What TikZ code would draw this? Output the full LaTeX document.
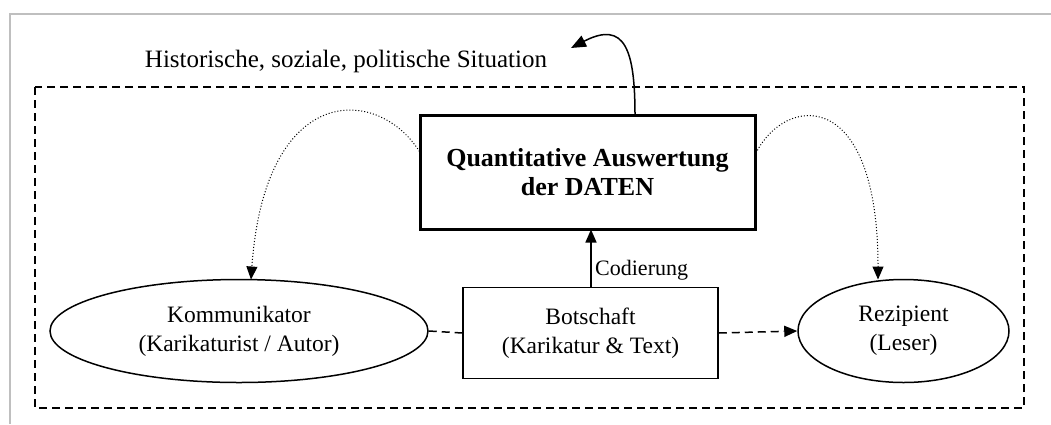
\documentclass[tikz,border=0pt]{standalone}
\usepackage{fontspec}
\setmainfont{Liberation Serif}
\usetikzlibrary{arrows.meta,shapes.geometric}
\begin{document}
\begin{tikzpicture}[x=1pt,y=-1pt,
  txt/.style={font=\fontsize{23.5}{29}\selectfont, align=center},
  ell/.style={draw, ellipse, line width=1.5pt, inner sep=0pt, txt},
  tip/.style={-{Triangle[length=15pt,width=12pt]}},
  smalltip/.style={-{Triangle[length=13pt,width=11pt]}},
  dashline/.style={dashed, line width=1.5pt, dash pattern=on 8pt off 5pt}]
\useasboundingbox (0,0) rectangle (1051,424);
\draw[gray!50, line width=2pt] (10,424) -- (10,14) -- (1051,14);
\draw[dashline] (35,87) rectangle (1024,408);
\node[font=\fontsize{25}{29}\selectfont, anchor=base] (sit) at (346,67) {Historische, soziale, politische Situation};
\node[draw, line width=3pt, minimum width=335pt, minimum height=114pt, font=\fontsize{26}{29}\selectfont\bfseries, align=center] (q) at (587.5,172.5) {Quantitative Auswertung\\der DATEN};
\node[draw, line width=1.5pt, minimum width=255pt, minimum height=91pt, txt] (b) at (590.5,333) {Botschaft\\(Karikatur \& Text)};
\node[ell, minimum width=378pt, minimum height=103pt] (k) at (239,331) {Kommunikator\\(Karikaturist / Autor)};
\node[ell, minimum width=211pt, minimum height=103pt] (r) at (903.5,331) {Rezipient\\(Leser)};
\coordinate (qtop) at (635,115.5);
\coordinate (sitend) at (571,48);
\coordinate (bt) at (591,287.5);
\coordinate (qb) at (591,229.5);
\coordinate (kt) at (251,279.5);
\coordinate (rt) at (878,279.5);
\draw[line width=1.5pt, tip] (qtop) .. controls (635,50) and (625,20) .. (sitend);
\draw[line width=1.5pt, smalltip] (bt) -- (qb);
\node[font=\fontsize{22}{26}\selectfont, anchor=base west, inner sep=0pt] (cod) at (595,275) {Codierung};
\draw[dashline] (k.east) -- (b.west);
\draw[dashline, smalltip] (b.east) -- (r.west);
\coordinate (ql) at (421,154);
\coordinate (qr) at (756,153);
\draw[dotted, line width=1pt, smalltip] (ql) .. controls (380,85) and (265,80) .. (kt);
\draw[dotted, line width=1pt, smalltip] (qr) .. controls (785,95) and (878,85) .. (rt);
\end{tikzpicture}
\end{document}
